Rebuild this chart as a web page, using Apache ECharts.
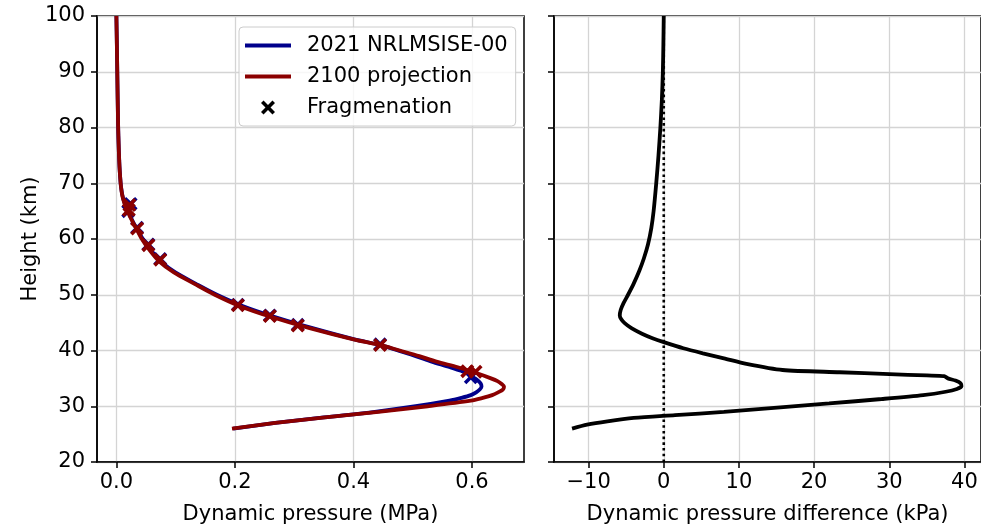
<!DOCTYPE html>
<html>
<head>
<meta charset="utf-8">
<script src="https://cdn.jsdelivr.net/npm/echarts@6/dist/echarts.min.js"></script>
<style>
  html, body { margin: 0; padding: 0; background: #fff; }
  #chart { width: 981px; height: 530px; }
</style>
</head>
<body>
<div id="chart"></div>
<script>
// ---------- data ----------
const heightsLeft = [100, 95, 90, 85, 80, 77, 74, 72, 70, 69, 68, 67, 66, 64, 62, 60, 58, 56, 54, 52, 50, 48, 46, 44, 42, 41, 40, 39, 38, 37, 36, 35, 34.5, 34, 33.5, 33, 32.5, 32, 31.5, 31, 30, 29, 28, 27, 26];
const pressure2021 = [0.000, 0.0008, 0.0015, 0.0022, 0.003, 0.0038, 0.0048, 0.0058, 0.0072, 0.0083, 0.0098, 0.0122, 0.0155, 0.0238, 0.0335, 0.0447, 0.0583, 0.0750, 0.0995, 0.1335, 0.1695, 0.2128, 0.2675, 0.331, 0.4015, 0.445, 0.475, 0.505, 0.532, 0.563, 0.590, 0.605, 0.611, 0.615, 0.616, 0.613, 0.607, 0.598, 0.582, 0.562, 0.505, 0.436, 0.350, 0.268, 0.197];
const pressure2100 = [0.000, 0.0008, 0.0015, 0.0022, 0.003, 0.0038, 0.0048, 0.0058, 0.0072, 0.0082, 0.0096, 0.0118, 0.015, 0.023, 0.033, 0.043, 0.056, 0.072, 0.097, 0.131, 0.166, 0.2075, 0.262, 0.326, 0.400, 0.445, 0.478, 0.511, 0.540, 0.576, 0.606, 0.632, 0.643, 0.650, 0.654, 0.652, 0.644, 0.634, 0.618, 0.598, 0.525, 0.442, 0.352, 0.268, 0.195];

const frag2021P = [0.024, 0.020, 0.035, 0.054, 0.074, 0.205, 0.259, 0.306, 0.445, 0.598];
const frag2021H = [66.3, 65.0, 62.0, 59.0, 56.4, 48.2, 46.3, 44.6, 41.1, 35.2];
const frag2100P = [0.022, 0.021, 0.035, 0.054, 0.074, 0.205, 0.259, 0.306, 0.445, 0.592, 0.606];
const frag2100H = [66.1, 65.2, 61.9, 58.9, 56.3, 48.1, 46.2, 44.5, 41.0, 36.3, 36.2];

const heightsDiff = [100, 95, 90, 85, 80, 75, 70, 65, 62, 59, 56.5, 54.3, 52, 50, 48.5, 47.3, 46.3, 45.6, 44.9, 44.0, 43.0, 42.2, 41.5, 40.4, 39.5, 38.6, 37.6, 36.5, 36.1, 35.77, 35.52, 35.4, 35.0, 34.6, 34.1, 33.6, 33.1, 32.6, 32.0, 31.3, 30.5, 29.8, 29.0, 28.4, 27.9, 27.3, 26.7, 26.0];
const pressureDiff = [0.0, -0.05, -0.12, -0.25, -0.45, -0.7, -1.0, -1.35, -1.65, -2.1, -2.65, -3.25, -4.0, -4.75, -5.35, -5.72, -5.85, -5.65, -5.2, -4.3, -2.9, -1.5, 0.0, 2.6, 5.2, 8.0, 11.0, 15.8, 23.4, 30.0, 35.0, 37.3, 37.8, 38.8, 39.5, 39.6, 39.0, 37.5, 34.5, 29.0, 22.0, 15.5, 8.0, 1.5, -4.0, -7.5, -10.2, -12.2];

const zeroLineX = [0, 0];
const zeroLineH = [20, 100];

const leftTicks = [0, 0.2, 0.4, 0.6];
const rightTicks = [-10, 0, 10, 20, 30, 40];

const legendNames = ['2021 NRLMSISE-00', '2100 projection', 'Fragmenation'];

// ---------- helpers ----------
const zip = (xs, ys) => xs.map((x, i) => [x, ys[i]]);
const FONT = 'DejaVu Sans';
const FS = 21;
const xMarker = 'path://M0,1.8 L1.8,0 L5,3.2 L8.2,0 L10,1.8 L6.8,5 L10,8.2 L8.2,10 L5,6.8 L1.8,10 L0,8.2 L3.2,5 Z';
const lineIcon = 'path://M0,0 L46,0 L46,4 L0,4 Z';
const BLUE = '#00008b';
const RED = '#8b0000';
const GRID = '#d4d4d4';

function xAxisCommon(gridIndex, min, max, ticks, fmt, name) {
  return {
    type: 'value', gridIndex, min, max,
    name, nameLocation: 'middle', nameGap: 42,
    nameTextStyle: { fontFamily: FONT, fontSize: FS, color: '#000' },
    axisLine: { show: true, onZero: false, lineStyle: { color: '#000', width: 1.5 } },
    axisTick: { show: true, customValues: ticks, length: 6, lineStyle: { color: '#000', width: 1.5 } },
    axisLabel: { customValues: ticks, formatter: fmt, margin: 10, fontFamily: FONT, fontSize: FS, color: '#000' },
    splitLine: { show: true, lineStyle: { color: GRID, width: 1.3 } }
  };
}
function yAxisCommon(gridIndex, showLabels, name) {
  return {
    type: 'value', gridIndex, min: 20, max: 100, interval: 10,
    name, nameLocation: 'middle', nameGap: 56,
    nameTextStyle: { fontFamily: FONT, fontSize: FS, color: '#000' },
    axisLine: { show: true, onZero: false, lineStyle: { color: '#000', width: 1.5 } },
    axisTick: { show: true, length: 6, lineStyle: { color: '#000', width: 1.5 } },
    axisLabel: { show: showLabels, margin: 12, fontFamily: FONT, fontSize: FS, color: '#000' },
    splitLine: { show: true, lineStyle: { color: GRID, width: 1.3 } }
  };
}

const option = {
  animation: false,
  backgroundColor: '#fff',
  textStyle: { fontFamily: FONT },
  grid: [
    { left: 97, top: 16, width: 427, height: 446, show: true, borderColor: '#000', borderWidth: 1.5, backgroundColor: 'transparent' },
    { left: 554, top: 16, width: 428, height: 446, show: true, borderColor: '#000', borderWidth: 1.5, backgroundColor: 'transparent' }
  ],
  xAxis: [
    xAxisCommon(0, -0.0327, 0.6877, leftTicks, v => v.toFixed(1), 'Dynamic pressure (MPa)'),
    xAxisCommon(1, -14.6, 42.2, rightTicks, v => (v < 0 ? '\u2212' + Math.abs(v) : String(v)), 'Dynamic pressure difference (kPa)')
  ],
  yAxis: [
    yAxisCommon(0, true, 'Height (km)'),
    yAxisCommon(1, false, '')
  ],
  legend: {
    show: true,
    left: 239, top: 27,
    orient: 'vertical',
    data: [
      { name: legendNames[0], icon: lineIcon },
      { name: legendNames[1], icon: lineIcon },
      { name: legendNames[2], icon: xMarker, itemStyle: { color: '#000', opacity: 1 } }
    ],
    itemWidth: 46, itemHeight: 14, itemGap: 10,
    selectedMode: false,
    padding: [8, 8, 8, 6],
    backgroundColor: 'rgba(255,255,255,0.8)',
    borderColor: '#cccccc', borderWidth: 1, borderRadius: 4,
    textStyle: { fontFamily: FONT, fontSize: FS, color: '#000', lineHeight: 21, padding: [0, 0, 0, 11] }
  },
  series: [
    {
      name: legendNames[0], type: 'line', xAxisIndex: 0, yAxisIndex: 0,
      data: zip(pressure2021, heightsLeft), showSymbol: false, smooth: 0.3, z: 2,
      lineStyle: { color: BLUE, width: 3.8 }, itemStyle: { color: BLUE }
    },
    {
      name: 'frag2021', type: 'scatter', xAxisIndex: 0, yAxisIndex: 0,
      data: zip(frag2021P, frag2021H), symbol: xMarker, symbolSize: 14, z: 3,
      itemStyle: { color: BLUE, opacity: 1 }
    },
    {
      name: legendNames[1], type: 'line', xAxisIndex: 0, yAxisIndex: 0,
      data: zip(pressure2100, heightsLeft), showSymbol: false, smooth: 0.3, z: 4,
      lineStyle: { color: RED, width: 3.8 }, itemStyle: { color: RED }
    },
    {
      name: 'frag2100', type: 'scatter', xAxisIndex: 0, yAxisIndex: 0,
      data: zip(frag2100P, frag2100H), symbol: xMarker, symbolSize: 14, z: 5,
      itemStyle: { color: RED, opacity: 1 }
    },
    {
      name: legendNames[2], type: 'scatter', xAxisIndex: 0, yAxisIndex: 0,
      data: [], symbol: xMarker, itemStyle: { color: '#000', opacity: 1 }
    },
    {
      name: 'zero', type: 'line', xAxisIndex: 1, yAxisIndex: 1,
      data: zip(zeroLineX, zeroLineH), showSymbol: false, z: 2,
      lineStyle: { color: '#000', width: 2.6, type: [2.6, 3.1], cap: 'butt' }
    },
    {
      name: 'diff', type: 'line', xAxisIndex: 1, yAxisIndex: 1,
      data: zip(pressureDiff, heightsDiff), showSymbol: false, smooth: 0.25, z: 3,
      lineStyle: { color: '#000', width: 3.8 }
    }
  ]
};

const chart = echarts.init(document.getElementById('chart'), null, { renderer: 'canvas' });
chart.setOption(option);
</script>
</body>
</html>
